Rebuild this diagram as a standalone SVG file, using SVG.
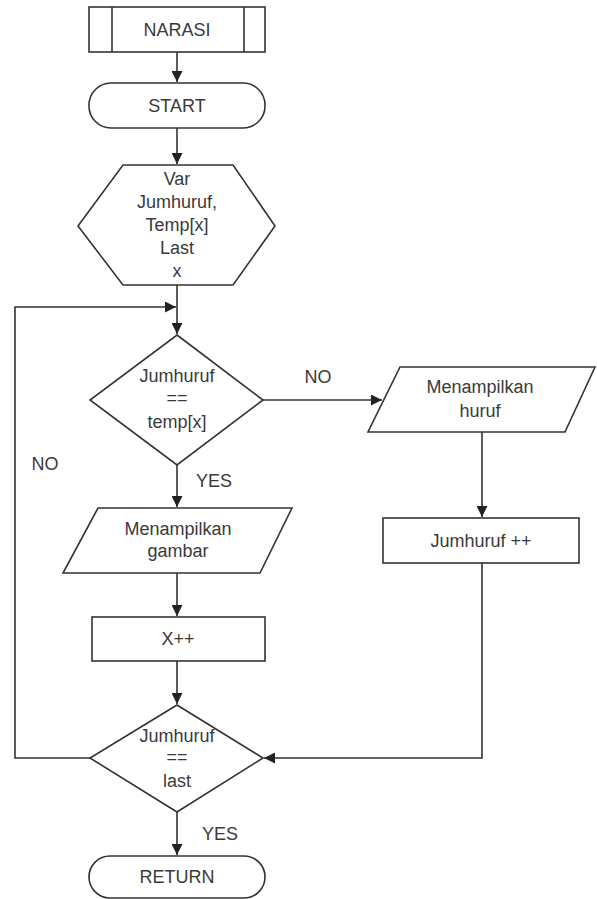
<svg xmlns="http://www.w3.org/2000/svg" width="597" height="899" viewBox="0 0 597 899">
<defs>
<marker id="arr" viewBox="0 0 10 10" refX="10" refY="5" markerWidth="11" markerHeight="11" markerUnits="userSpaceOnUse" orient="auto">
<path d="M0,0 L10,5 L0,10 z" fill="#222"/>
</marker>
<style>
.s{fill:#fff;stroke:#333;stroke-width:1.6}
.t{font-family:"Liberation Sans",Arial,sans-serif;font-size:18px;fill:#3a3a3a;text-anchor:middle}
.c{fill:none;stroke:#333;stroke-width:1.6}
</style>
</defs>
<rect width="597" height="899" fill="#fff"/>
<g id="connectors">
<path class="c" d="M177,52 V82" marker-end="url(#arr)"/>
<path class="c" d="M177,128 V164" marker-end="url(#arr)"/>
<path class="c" d="M177,285 V334" marker-end="url(#arr)"/>
<path class="c" d="M90,758 H15 V307 H176" marker-end="url(#arr)"/>
<path class="c" d="M263,400 H382" marker-end="url(#arr)"/>
<path class="c" d="M482,432 V517" marker-end="url(#arr)"/>
<path class="c" d="M482,563 V758 H264" marker-end="url(#arr)"/>
<path class="c" d="M177,465 V507" marker-end="url(#arr)"/>
<path class="c" d="M177,573 V616" marker-end="url(#arr)"/>
<path class="c" d="M177,661 V704" marker-end="url(#arr)"/>
<path class="c" d="M177,812 V855" marker-end="url(#arr)"/>
<text class="t" x="318" y="383">NO</text>
<text class="t" x="45" y="470">NO</text>
<text class="t" x="214" y="487">YES</text>
<text class="t" x="220" y="840">YES</text>
</g>
<g id="narasi">
<rect class="s" x="89" y="7" width="176" height="45"/>
<line class="c" x1="112" y1="7" x2="112" y2="52"/>
<line class="c" x1="244" y1="7" x2="244" y2="52"/>
<text class="t" x="177" y="36">NARASI</text>
</g>
<g id="start">
<rect class="s" x="89" y="83" width="176" height="45" rx="22" ry="22"/>
<text class="t" x="177" y="112">START</text>
</g>
<g id="var">
<polygon class="s" points="123,165 233,165 275,226 233,285 123,285 78,226"/>
<text class="t" x="177" y="185">Var</text>
<text class="t" x="177" y="208">Jumhuruf,</text>
<text class="t" x="177" y="231">Temp[x]</text>
<text class="t" x="177" y="254">Last</text>
<text class="t" x="177" y="277">x</text>
</g>
<g id="cond1">
<polygon class="s" points="177,335 263,400 177,465 90,400"/>
<text class="t" x="177" y="382">Jumhuruf</text>
<text class="t" x="177" y="404">==</text>
<text class="t" x="177" y="428">temp[x]</text>
</g>
<g id="tampilhuruf">
<polygon class="s" points="400,367 595,367 565,432 368,432"/>
<text class="t" x="480" y="393">Menampilkan</text>
<text class="t" x="480" y="417">huruf</text>
</g>
<g id="jumhurufinc">
<rect class="s" x="383" y="518" width="196" height="45"/>
<text class="t" x="481" y="547">Jumhuruf ++</text>
</g>
<g id="tampilgambar">
<polygon class="s" points="98,508 292,508 260,573 63,573"/>
<text class="t" x="178" y="535">Menampilkan</text>
<text class="t" x="178" y="557">gambar</text>
</g>
<g id="xinc">
<rect class="s" x="92" y="617" width="173" height="44"/>
<text class="t" x="178" y="645">X++</text>
</g>
<g id="cond2">
<polygon class="s" points="177,705 263,758 177,812 90,758"/>
<text class="t" x="177" y="742">Jumhuruf</text>
<text class="t" x="177" y="763">==</text>
<text class="t" x="177" y="787">last</text>
</g>
<g id="return">
<rect class="s" x="89" y="856" width="176" height="42" rx="21" ry="21"/>
<text class="t" x="177" y="883">RETURN</text>
</g>
</svg>
